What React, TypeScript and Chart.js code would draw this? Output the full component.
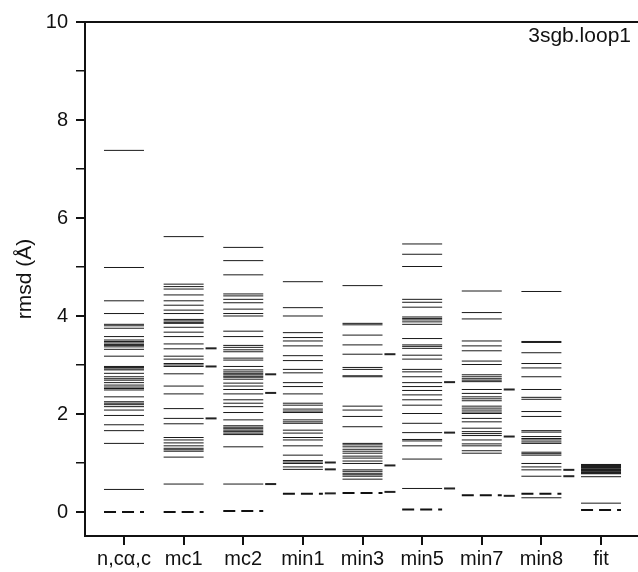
import React, { useEffect, useRef } from "react";
import { Chart, registerables } from "chart.js";

Chart.register(...registerables);

const categories = ["n,cα,c", "mc1", "mc2", "min1", "min3", "min5", "min7", "min8", "fit"];

const ncacValues = [7.38, 4.99, 4.31, 4.05, 3.83, 3.80, 3.75, 3.58, 3.51, 3.48, 3.45, 3.42, 3.40, 3.37, 3.32, 3.18, 2.97, 2.95, 2.92, 2.90, 2.83, 2.76, 2.72, 2.69, 2.64, 2.59, 2.55, 2.52, 2.49, 2.35, 2.25, 2.22, 2.19, 2.15, 2.08, 1.97, 1.78, 1.66, 1.40, 0.46];
const mc1Values = [5.62, 4.65, 4.60, 4.55, 4.43, 4.31, 4.22, 4.12, 4.05, 3.93, 3.90, 3.87, 3.85, 3.77, 3.67, 3.58, 3.43, 3.33, 3.18, 3.12, 3.03, 3.00, 2.97, 2.82, 2.57, 2.41, 2.11, 1.91, 1.80, 1.52, 1.47, 1.41, 1.35, 1.30, 1.27, 1.24, 1.12, 0.57];
const mc2Values = [5.40, 5.13, 4.84, 4.45, 4.41, 4.34, 4.27, 4.14, 4.05, 4.00, 3.69, 3.58, 3.40, 3.36, 3.31, 3.27, 3.14, 3.10, 2.97, 2.90, 2.86, 2.83, 2.80, 2.77, 2.75, 2.71, 2.63, 2.57, 2.50, 2.41, 2.29, 2.22, 2.15, 2.03, 1.88, 1.76, 1.73, 1.70, 1.67, 1.64, 1.61, 1.58, 1.33, 0.57];
const min1Values = [4.70, 4.17, 4.00, 3.66, 3.56, 3.49, 3.39, 3.19, 3.09, 2.91, 2.84, 2.64, 2.56, 2.41, 2.22, 2.18, 2.10, 2.06, 2.03, 1.88, 1.84, 1.81, 1.67, 1.61, 1.52, 1.47, 1.35, 1.16, 1.05, 1.02, 0.99, 0.92, 0.87];
const min3Values = [4.62, 3.85, 3.82, 3.61, 3.41, 3.22, 2.95, 2.91, 2.78, 2.76, 2.16, 2.08, 1.95, 1.74, 1.40, 1.37, 1.33, 1.28, 1.24, 1.20, 1.14, 1.10, 1.04, 0.99, 0.86, 0.83, 0.79, 0.76, 0.73, 0.67];
const min5Values = [5.47, 5.26, 5.01, 4.34, 4.28, 4.18, 3.98, 3.95, 3.92, 3.88, 3.83, 3.54, 3.41, 3.38, 3.34, 3.20, 3.12, 2.91, 2.86, 2.76, 2.64, 2.56, 2.48, 2.39, 2.29, 2.18, 2.01, 1.81, 1.62, 1.48, 1.45, 1.35, 1.08, 0.48];
const min7Values = [4.51, 4.07, 3.94, 3.49, 3.39, 3.29, 3.08, 3.01, 2.80, 2.76, 2.72, 2.69, 2.66, 2.50, 2.42, 2.35, 2.31, 2.27, 2.16, 2.12, 2.08, 2.04, 2.01, 1.91, 1.84, 1.71, 1.64, 1.60, 1.56, 1.47, 1.39, 1.35, 1.25, 1.20];
const min8Values = [4.50, 3.48, 3.46, 3.25, 3.03, 2.94, 2.76, 2.50, 2.34, 2.30, 2.05, 1.95, 1.66, 1.63, 1.54, 1.50, 1.47, 1.43, 1.40, 1.22, 1.19, 1.16, 0.99, 0.92, 0.86, 0.73, 0.29];
const fitValues = [0.97, 0.96, 0.95, 0.93, 0.92, 0.91, 0.90, 0.88, 0.87, 0.86, 0.85, 0.84, 0.82, 0.81, 0.80, 0.79, 0.78, 0.72, 0.18];

const seriesByCategory = [ncacValues, mc1Values, mc2Values, min1Values, min3Values, min5Values, min7Values, min8Values, fitValues];

// dashed reference line per category
const dashedValues = [0.0, 0.0, 0.02, 0.37, 0.39, 0.05, 0.34, 0.37, 0.04];

// short marks to the right of each column
const ncacMarks: number[] = [];
const mc1Marks = [3.34, 2.97, 1.91];
const mc2Marks = [2.81, 2.43, 0.57];
const min1Marks = [1.01, 0.87, 0.38];
const min3Marks = [3.22, 0.95, 0.41];
const min5Marks = [2.65, 1.62, 0.48];
const min7Marks = [2.50, 1.54, 0.33];
const min8Marks = [0.86, 0.73];
const fitMarks: number[] = [];
const marksByCategory = [ncacMarks, mc1Marks, mc2Marks, min1Marks, min3Marks, min5Marks, min7Marks, min8Marks, fitMarks];

const yTickValues = [0, 1, 2, 3, 4, 5, 6, 7, 8, 9, 10];

const INK = "#111";
const FONT = '"Liberation Sans", Arial, Helvetica, sans-serif';
const HALF = 0.335;
const MARK_OFFSET = 0.46;

export default function App() {
  const ref = useRef<HTMLCanvasElement | null>(null);

  useEffect(() => {
    if (!ref.current) return;

    const runPoints = seriesByCategory.flatMap((vals, i) => vals.map((v) => ({ x: i, y: v })));
    const markPoints = marksByCategory.flatMap((vals, i) => vals.map((v) => ({ x: i + MARK_OFFSET, y: v })));
    const dashedPoints: { x: number; y: number | null }[] = [];
    dashedValues.forEach((v, i) => {
      dashedPoints.push({ x: i - HALF, y: v });
      dashedPoints.push({ x: i + HALF, y: v });
      dashedPoints.push({ x: i + 0.5, y: null });
    });

    const labelPlugin = {
      id: "cornerLabel",
      afterDraw(chart: any) {
        const { ctx, chartArea } = chart;
        ctx.save();
        ctx.font = `21px ${FONT}`;
        ctx.fillStyle = INK;
        ctx.textAlign = "right";
        ctx.textBaseline = "alphabetic";
        ctx.fillText("3sgb.loop1", chartArea.right - 7, chartArea.top + 20);
        ctx.restore();
      },
    };

    const chart = new Chart(ref.current, {
      type: "scatter",
      data: {
        datasets: [
          {
            data: runPoints,
            pointStyle: "line",
            pointRadius: 20,
            pointHoverRadius: 20,
            pointBorderWidth: 1,
            pointBorderColor: "#1a1a1a",
            pointBackgroundColor: "#1a1a1a",
          } as any,
          {
            data: markPoints,
            pointStyle: "line",
            pointRadius: 5.5,
            pointHoverRadius: 5.5,
            pointBorderWidth: 2,
            pointBorderColor: "#222",
            pointBackgroundColor: "#222",
          } as any,
          {
            data: dashedPoints,
            showLine: true,
            spanGaps: false,
            pointRadius: 0,
            pointHoverRadius: 0,
            borderWidth: 2,
            borderColor: "#111",
            borderDash: [12, 6],
            tension: 0,
          } as any,
        ],
      },
      options: {
        animation: false,
        responsive: false,
        events: [],
        layout: { autoPadding: false, padding: { top: 22, right: 0, bottom: 0, left: 0 } },
        plugins: {
          legend: { display: false },
          tooltip: { enabled: false },
        },
        scales: {
          x: {
            type: "linear",
            position: "bottom",
            min: -0.654,
            max: 8.62,
            afterBuildTicks: (s: any) => {
              s.ticks = categories.map((_, i) => ({ value: i }));
            },
            afterFit: (s: any) => {
              s.height = 36;
              s.paddingLeft = 0;
              s.paddingRight = 0;
            },
            ticks: {
              autoSkip: false,
              maxRotation: 0,
              padding: 2,
              color: INK,
              font: { family: FONT, size: 20 },
              callback: (v: any) => categories[Math.round(Number(v))] ?? "",
            },
            grid: { drawOnChartArea: false, drawTicks: true, tickLength: 9, lineWidth: 2, color: INK },
            border: { display: true, width: 2, color: INK },
          },
          x2: {
            type: "linear",
            position: "top",
            ticks: { display: false },
            grid: { display: false },
            border: { display: true, width: 2, color: INK },
            afterFit: (s: any) => {
              s.height = 0;
              s.paddingLeft = 0;
              s.paddingRight = 0;
            },
          },
          y: {
            type: "linear",
            min: -0.49,
            max: 10,
            afterBuildTicks: (s: any) => {
              s.ticks = yTickValues.map((v) => ({ value: v }));
            },
            afterFit: (s: any) => {
              s.width = 85;
            },
            ticks: {
              autoSkip: false,
              padding: 8,
              color: INK,
              font: { family: FONT, size: 20 },
              callback: (v: any) => (Number(v) % 2 === 0 ? String(v) : ""),
            },
            grid: {
              drawOnChartArea: false,
              drawTicks: true,
              tickLength: 9,
              color: INK,
              lineWidth: (c: any) => (c.tick && c.tick.value % 2 === 0 ? 2 : 1.5),
            },
            border: { display: true, width: 2, color: INK },
            title: {
              display: true,
              text: "rmsd (Å)",
              color: INK,
              font: { family: FONT, size: 21 },
              padding: { top: 13, bottom: 0 },
            },
          },
        },
      } as any,
      plugins: [labelPlugin],
    });

    return () => chart.destroy();
  }, []);

  return (
    <div style={{ position: "fixed", left: 0, top: 0, width: 638, height: 572, background: "#fff" }}>
      <canvas ref={ref} width={638} height={572} style={{ display: "block" }} />
    </div>
  );
}
